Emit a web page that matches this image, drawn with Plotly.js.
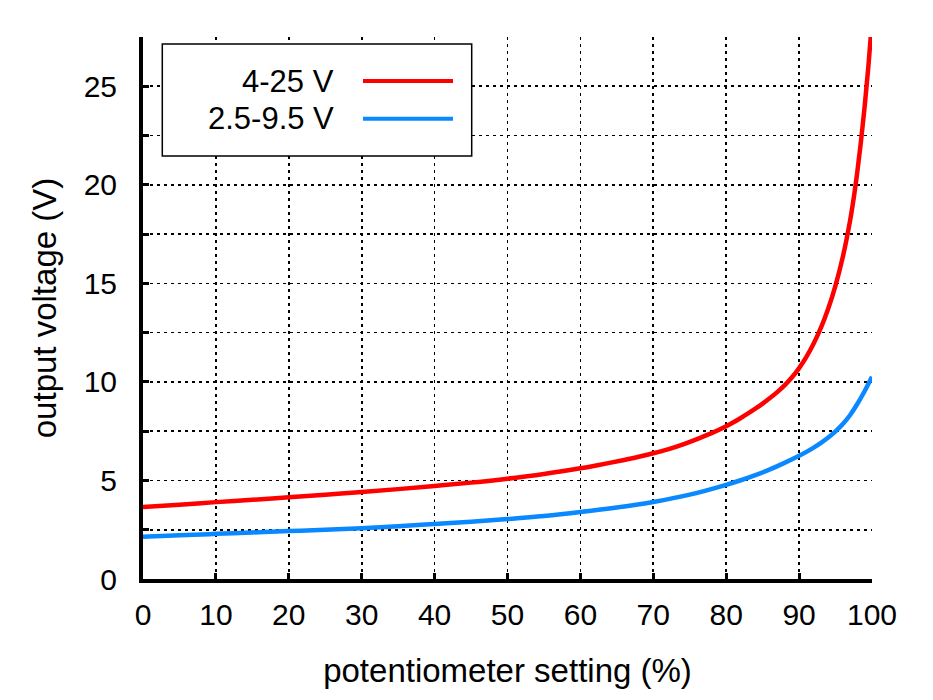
<!DOCTYPE html>
<html>
<head>
<meta charset="utf-8">
<script src="https://cdn.plot.ly/plotly-3.0.1.min.js"></script>
<style>html,body{margin:0;padding:0;background:#fff;}#chart{width:933px;height:700px;}</style>
</head>
<body>
<div id="chart"></div>
<script>
// Series names
const seriesNames = ["4-25 V", "2.5-9.5 V"];
const seriesColors = ["#ff0000", "#0a88ff"];

// 4-25 V regulator: potentiometer setting (%) vs output voltage (V)
const redX = [0, 5, 10, 15, 20, 25, 30, 35, 40, 45, 50, 55, 60, 62, 64, 66, 68, 70, 72, 74, 76, 78, 80, 81, 82, 83, 84, 85, 86, 87, 88, 89, 90, 91, 92, 93, 94, 95, 96, 97, 97.5, 98, 98.5, 99, 99.5, 100];
const redY = [3.65, 3.77, 3.90, 4.02, 4.15, 4.28, 4.41, 4.56, 4.72, 4.89, 5.09, 5.33, 5.62, 5.75, 5.89, 6.04, 6.20, 6.38, 6.58, 6.82, 7.10, 7.40, 7.75, 7.95, 8.17, 8.40, 8.64, 8.90, 9.18, 9.48, 9.82, 10.22, 10.70, 11.27, 11.95, 12.75, 13.72, 14.9, 16.35, 18.2, 19.35, 20.7, 22.25, 24.0, 26.0, 28.3];

// 2.5-9.5 V regulator
const blueX = [0, 5, 10, 15, 20, 25, 30, 35, 40, 45, 50, 55, 60, 65, 70, 75, 80, 82, 84, 86, 88, 90, 91, 92, 93, 94, 95, 96, 97, 98, 99, 100];
const blueY = [2.15, 2.22, 2.29, 2.36, 2.43, 2.50, 2.58, 2.68, 2.79, 2.90, 3.04, 3.20, 3.40, 3.63, 3.91, 4.28, 4.78, 5.01, 5.27, 5.56, 5.89, 6.25, 6.45, 6.67, 6.91, 7.18, 7.49, 7.86, 8.32, 8.89, 9.54, 10.26];

const xTitle = "potentiometer setting (%)";
const yTitle = "output voltage (V)";

const FONT = "Liberation Sans, Arial, sans-serif";

const traces = [
  {x: redX, y: redY, name: seriesNames[0], type: "scatter", mode: "lines",
   line: {color: seriesColors[0], width: 4.5, shape: "spline", smoothing: 1}},
  {x: blueX, y: blueY, name: seriesNames[1], type: "scatter", mode: "lines",
   line: {color: seriesColors[1], width: 4.5, shape: "spline", smoothing: 1}}
];

const W = 729, H = 542, L = 143, T = 37;
const px = v => (v - L) / W;
const py = v => (T + H - v) / H;

const legendLineY = [py(81), py(118.7)];
const shapes = [
  {type: "rect", xref: "paper", yref: "paper", x0: px(162.3), x1: px(471.7), y0: py(156), y1: py(44),
   line: {color: "#000", width: 1.5}, fillcolor: "#fff", layer: "above"}
];
const annotations = [];
seriesNames.forEach((n, i) => {
  shapes.push({type: "line", xref: "paper", yref: "paper", x0: px(363), x1: px(453),
    y0: legendLineY[i], y1: legendLineY[i], line: {color: seriesColors[i], width: 4}, layer: "above"});
  annotations.push({xref: "paper", yref: "paper", x: px(336), y: legendLineY[i], xanchor: "right", yanchor: "middle",
    text: n, showarrow: false, font: {family: FONT, size: 31, color: "#000"}});
});

const gridStyle = {showgrid: true, gridcolor: "#000", gridwidth: 1.6, griddash: "3px,4px"};

const layout = {
  width: 933, height: 700,
  margin: {l: L, r: 933 - L - W, t: T, b: 700 - T - H, pad: 0},
  paper_bgcolor: "#fff", plot_bgcolor: "#fff",
  showlegend: false,
  font: {family: FONT, color: "#000"},
  xaxis: Object.assign({
    range: [0, 100], tick0: 0, dtick: 10, ticks: "inside", ticklen: 6, tickwidth: 3, tickcolor: "#000",
    showline: true, linewidth: 4, linecolor: "#000", zeroline: false,
    tickfont: {family: FONT, size: 30, color: "#000"}, ticklabelstandoff: 6,
    title: {text: xTitle, font: {family: FONT, size: 33, color: "#000"}, standoff: 30}
  }, gridStyle),
  yaxis: Object.assign({
    range: [0, 27.5], tick0: 0, dtick: 5, ticks: "inside", ticklen: 6, tickwidth: 3, tickcolor: "#000",
    showline: true, linewidth: 4, linecolor: "#000", zeroline: false,
    tickfont: {family: FONT, size: 30, color: "#000"}, ticklabelstandoff: 16,
    minor: {tick0: 0, dtick: 2.5, ticks: "inside", ticklen: 6, tickwidth: 3, tickcolor: "#000",
            showgrid: true, gridcolor: "#000", gridwidth: 1.6, griddash: "3px,4px"},
    title: {text: yTitle, font: {family: FONT, size: 33, color: "#000"}, standoff: 18}
  }, gridStyle),
  shapes: shapes,
  annotations: annotations
};

Plotly.newPlot("chart", traces, layout, {displayModeBar: false, staticPlot: true});
</script>
</body>
</html>
